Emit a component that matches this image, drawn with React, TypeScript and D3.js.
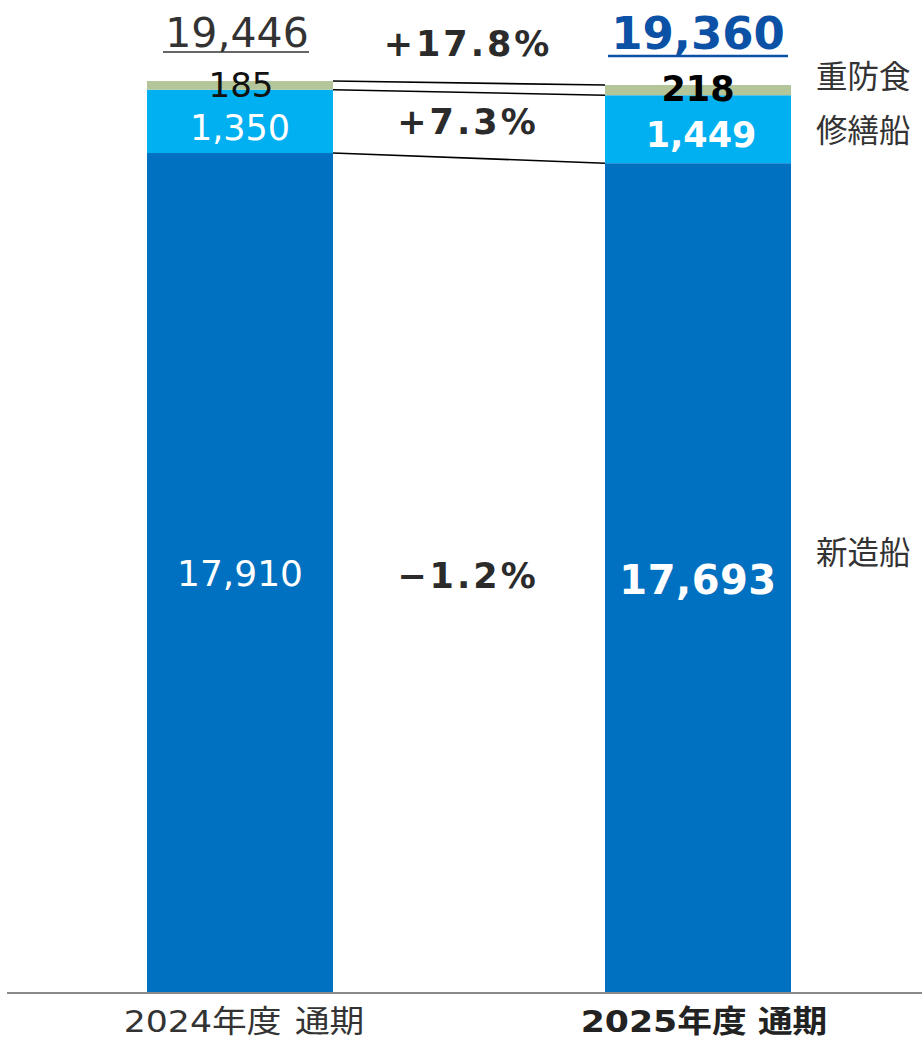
import { useMemo } from 'react'
import * as d3 from 'd3'

const categories = ['2024年度 通期', '2025年度 通期']
const categoryYears = ['2024', '2025']
const categorySuffix = ['年度', '通期']
const newShips = [17910, 17693]
const repairShips = [1350, 1449]
const antiCorrosion = [185, 218]
const totals = [19446, 19360]
const seriesNames = ['新造船', '修繕船', '重防食']
const changes = ['−1.2%', '+7.3%', '+17.8%']

const COLORS = ['#0070C0', '#00B0F0', '#B3C599']
const NUM_FONT = '"DejaVu Sans", Verdana, sans-serif'
const JP_FONT = '"Noto Sans CJK JP", "Noto Sans", sans-serif'

const WIDTH = 922
const HEIGHT = 1040
const BAR_W = 186

export default function App() {
  const x = useMemo(() => d3.scalePoint<string>().domain(categories).range([240, 698]), [])
  const y = useMemo(() => d3.scaleLinear().domain([0, 20000]).range([993, 55]), [])

  const rows = categories.map((c, i) => ({
    cat: c,
    values: [newShips[i], repairShips[i], antiCorrosion[i]],
  }))

  const stack = d3.stack<{ cat: string; values: number[] }, number>()
    .keys([0, 1, 2])
    .value((d, k) => d.values[k])
  const layers = stack(rows)

  const fmt = d3.format(',')
  const cx0 = x(categories[0])!
  const cx1 = x(categories[1])!
  const right0 = cx0 + BAR_W / 2
  const left1 = cx1 - BAR_W / 2
  const midX = (right0 + left1) / 2

  // segment tops, used for the connector lines
  const boundaries = layers.map(l => [l[0][1], l[1][1]])
  const mids = layers.map(l => [(l[0][0] + l[0][1]) / 2, (l[1][0] + l[1][1]) / 2])

  return (
    <div style={{ position: 'absolute', left: 0, top: 0 }}>
      <svg width={WIDTH} height={HEIGHT} style={{ display: 'block' }}>
        <rect width={WIDTH} height={HEIGHT} fill="#fff" />
        {layers.map((layer, k) =>
          layer.map((d, i) => (
            <rect
              key={`${k}-${i}`}
              x={x(categories[i])! - BAR_W / 2}
              y={y(d[1])}
              width={BAR_W}
              height={y(d[0]) - y(d[1])}
              fill={COLORS[k]}
            />
          ))
        )}

        {/* connector lines */}
        {boundaries.map((b, k) => (
          <line key={k} x1={right0} y1={y(b[0])} x2={left1} y2={y(b[1])} stroke="#000" strokeWidth={1.6} />
        ))}

        {/* axis */}
        <line x1={7} x2={WIDTH} y1={y(0)} y2={y(0)} stroke="#898989" strokeWidth={2} />
        {categories.map((c, i) => (
          <text
            key={c}
            transform={`translate(${x(c)! + (i === 0 ? 4 : 6)},1032) scale(1.12,1)`}
            textAnchor="middle"
            fontSize={31}
            fontWeight={i === 1 ? 'bold' : 'normal'}
            fill={i === 1 ? '#222' : '#333'}
          >
            <tspan fontFamily={NUM_FONT}>{categoryYears[i]}</tspan>
            <tspan fontFamily={JP_FONT}>{categorySuffix[0]}</tspan>
            <tspan fontFamily={JP_FONT} dx={i === 1 ? 10 : 12}>{categorySuffix[1]}</tspan>
          </text>
        ))}

        {/* 2024 labels */}
        <text x={cx0} y={y(mids[0][0]) + 13} textAnchor="middle" fontFamily={NUM_FONT} fontSize={36} fill="#fff">
          {fmt(newShips[0])}
        </text>
        <text x={cx0} y={y(mids[1][0]) + 19} textAnchor="middle" fontFamily={NUM_FONT} fontSize={35} fill="#fff">
          {fmt(repairShips[0])}
        </text>
        <text x={cx0 + 1} y={97} textAnchor="middle" fontFamily={NUM_FONT} fontSize={34} fill="#111">
          {fmt(antiCorrosion[0])}
        </text>
        <text x={cx0 - 3} y={47} textAnchor="middle" fontFamily={NUM_FONT} fontSize={41} fill="#333">
          {fmt(totals[0])}
        </text>
        <line x1={163} x2={309} y1={52} y2={52} stroke="#333" strokeWidth={1.5} />

        {/* 2025 labels */}
        <text x={cx1} y={y(mids[0][1]) + 16} textAnchor="middle" fontFamily={NUM_FONT} fontSize={40} fontWeight="bold" fill="#fff" letterSpacing={0.5}>
          {fmt(newShips[1])}
        </text>
        <text x={cx1 + 3} y={147} textAnchor="middle" fontFamily={NUM_FONT} fontSize={35} fontWeight="bold" fill="#fff">
          {fmt(repairShips[1])}
        </text>
        <text x={cx1} y={101} textAnchor="middle" fontFamily={NUM_FONT} fontSize={35} fontWeight="bold" fill="#000">
          {fmt(antiCorrosion[1])}
        </text>
        <text x={cx1} y={49} textAnchor="middle" fontFamily={NUM_FONT} fontSize={45} fontWeight="bold" fill="#0B52A6">
          {fmt(totals[1])}
        </text>
        <line x1={608} x2={788} y1={56} y2={56} stroke="#0B52A6" strokeWidth={2.5} />

        {/* change rates */}
        {[588, 134, 56].map((ly, k) => (
          <text
            key={k}
            x={midX + (k === 0 ? -1 : k === 1 ? -1 : -1)}
            y={ly}
            textAnchor="middle"
            fontFamily={NUM_FONT}
            fontSize={35}
            fontWeight="bold"
            fill="#2b2b2b"
            letterSpacing={3}
          >
            {changes[k]}
          </text>
        ))}

        {/* series names */}
        {[564, 142, 88].map((ly, k) => (
          <text key={k} x={816} y={ly} fontFamily={JP_FONT} fontSize={31.5} fill="#333">
            {seriesNames[k]}
          </text>
        ))}
      </svg>
    </div>
  )
}
